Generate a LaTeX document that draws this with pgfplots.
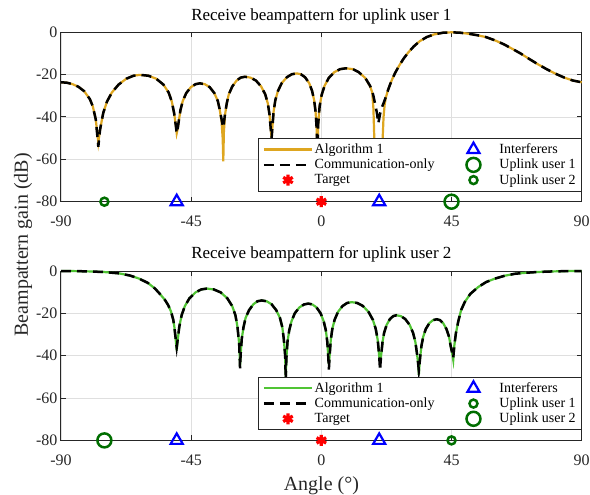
\documentclass[border=0pt]{standalone}
\usepackage{fontspec}
\setmainfont{Liberation Serif}
\usepackage{pgfplots}
\usepackage{pgfplotstable}
\pgfplotsset{compat=1.18}

\definecolor{algorange}{RGB}{222,166,32}
\definecolor{alggreen}{RGB}{80,196,52}
\definecolor{ugreen}{RGB}{0,110,0}
\definecolor{axgray}{RGB}{38,38,38}
\definecolor{gridgray}{RGB}{223,223,223}

% receive beampattern, uplink user 1 (angle, Algorithm 1, communication-only)
\pgfplotstableread{
ang alg com
-90 -23.6 -23.6
-88 -23.8 -23.8
-86 -24.5 -24.5
-84 -25.7 -25.7
-82 -27.8 -27.8
-80 -31.6 -31.6
-79 -35.0 -35.0
-78 -41.0 -41.0
-77.5 -47.0 -48.0
-77.1 -52.0 -54.0
-76.5 -46.0 -46.0
-75.4 -38.1 -38.1
-74.1 -32.7 -32.7
-72.4 -28.4 -28.4
-70.1 -24.7 -24.7
-67.4 -21.9 -21.9
-64.9 -20.5 -20.5
-62.7 -20.1 -20.1
-59.8 -20.5 -20.5
-57.1 -21.9 -21.9
-54.6 -24.7 -24.7
-52.8 -28.4 -28.4
-51.7 -32.7 -32.7
-50.9 -38.1 -38.1
-50.3 -44.1 -44.1
-50.0 -47.7 -47.7
-49.7 -45.9 -45.9
-49.3 -42.1 -42.1
-48.7 -36.7 -36.7
-47.9 -32.4 -32.4
-46.7 -28.7 -28.7
-45.1 -25.9 -25.9
-43.5 -24.5 -24.5
-42.0 -24.1 -24.1
-40.3 -24.5 -24.5
-38.6 -25.9 -25.9
-37.0 -28.7 -28.7
-35.8 -32.4 -32.4
-35.1 -36.7 -36.7
-34.5 -42.1 -41.0
-34.1 -50.2 -44.0
-33.9 -61.0 -45.0
-33.7 -47.3 -43.0
-33.3 -39.0 -38.5
-32.7 -33.6 -33.6
-32.0 -29.3 -29.3
-30.8 -25.6 -25.6
-29.3 -22.8 -22.8
-27.9 -21.4 -21.4
-26.4 -21.0 -21.0
-24.5 -21.4 -21.4
-22.6 -22.8 -22.8
-20.8 -25.6 -25.6
-19.4 -29.3 -29.3
-18.5 -33.6 -33.6
-17.9 -39.0 -39.0
-17.5 -45.6 -45.6
-17.2 -50.0 -50.0
-16.9 -44.5 -44.5
-16.5 -37.4 -37.4
-15.9 -32.0 -32.0
-15.0 -27.7 -27.7
-13.7 -24.0 -24.0
-11.9 -21.2 -21.2
-10.2 -19.8 -19.8
-8.5 -19.4 -19.4
-7.1 -19.8 -19.8
-5.65 -21.2 -21.2
-4.2 -24.0 -24.0
-3.2 -27.7 -27.7
-2.5 -32.0 -32.0
-2.0 -37.4 -37.4
-1.6 -45.7 -45.7
-1.4 -60.0 -58.0
-1.1 -43.5 -43.5
-0.6 -35.0 -35.0
0.1 -29.6 -29.6
1.1 -25.3 -25.3
2.55 -21.6 -21.6
4.5 -18.8 -18.8
6.5 -17.4 -17.4
8.5 -17.0 -17.0
10.9 -17.4 -17.4
12.9 -18.8 -18.8
15.2 -21.6 -21.6
16.85 -25.5 -25.3
17.6 -28.5 -28.0
18.0 -36.0 -30.0
18.3 -50.0 -32.0
18.6 -60.0 -34.0
19.2 -66.0 -38.0
19.7 -70.0 -43.0
20.3 -66.0 -38.5
20.9 -60.0 -35.5
21.2 -50.0 -34.5
21.5 -40.0 -33.5
21.9 -34.0 -32.0
22.3 -30.8 -30.5
23.0 -27.5 -27.5
23.8 -24.5 -24.5
24.6 -21.8 -21.8
25.5 -19.2 -19.2
27.0 -15.5 -15.5
28.5 -12.3 -12.3
30.0 -9.6 -9.6
32.0 -6.6 -6.6
34.0 -4.2 -4.2
36.5 -2.2 -2.2
39.0 -1.0 -1.0
42.0 -0.2 -0.2
45.0 0.0 0.0
48.0 -0.2 -0.2
51.0 -0.7 -0.7
54.0 -1.4 -1.4
57.0 -2.3 -2.3
60.0 -3.8 -3.8
63.0 -5.6 -5.6
66.0 -7.8 -7.8
69.0 -10.1 -10.1
72.0 -12.7 -12.7
75.0 -15.2 -15.2
78.0 -17.5 -17.5
81.0 -19.6 -19.6
84.0 -21.4 -21.4
87.0 -22.8 -22.8
90.0 -23.6 -23.6
}\userone

% receive beampattern, uplink user 2
\pgfplotstableread{
ang alg com
-90 0.0 0.0
-85 -0.05 -0.05
-80 -0.2 -0.2
-75 -0.5 -0.5
-70 -1.1 -1.1
-66 -2.2 -2.2
-63 -3.6 -3.6
-60 -5.6 -5.6
-57.5 -8.3 -8.3
-55.5 -11.3 -11.3
-54.0 -13.8 -13.8
-53.0 -16.0 -16.0
-52.0 -19.0 -19.0
-51.2 -23.0 -23.0
-50.8 -26.5 -26.5
-50.35 -32.5 -32.0
-50.0 -37.5 -36.0
-49.65 -32.7 -32.2
-49.1 -26.3 -26.3
-48.3 -20.9 -20.9
-47.2 -16.6 -16.6
-45.6 -12.9 -12.9
-43.5 -10.1 -10.1
-41.5 -8.7 -8.7
-39.6 -8.3 -8.3
-37.2 -8.7 -8.7
-34.8 -10.1 -10.1
-32.5 -12.9 -12.9
-30.8 -16.6 -16.6
-29.7 -20.9 -20.9
-29.0 -26.3 -26.3
-28.4 -34.5 -34.5
-28.1 -45.0 -46.0
-27.9 -39.3 -39.3
-27.5 -31.9 -31.9
-26.9 -26.5 -26.5
-26.2 -22.2 -22.2
-25.0 -18.5 -18.5
-23.5 -15.7 -15.7
-22.1 -14.3 -14.3
-20.6 -13.9 -13.9
-18.9 -14.3 -14.3
-17.2 -15.7 -15.7
-15.6 -18.5 -18.5
-14.3 -22.2 -22.2
-13.5 -26.5 -26.5
-13.0 -31.9 -31.9
-12.5 -40.0 -40.0
-12.3 -52.0 -52.0
-12.1 -41.5 -41.5
-11.7 -33.4 -33.4
-11.1 -28.0 -28.0
-10.3 -23.7 -23.7
-9.2 -20.0 -20.0
-7.6 -17.2 -17.2
-6.0 -15.8 -15.8
-4.5 -15.4 -15.4
-3.1 -15.8 -15.8
-1.65 -17.2 -17.2
-0.25 -20.0 -20.0
0.8 -23.7 -23.7
1.55 -28.0 -28.0
2.05 -33.4 -33.4
2.4 -40.6 -40.6
2.6 -44.0 -46.5
2.85 -40.2 -40.2
3.25 -32.7 -32.7
3.8 -27.3 -27.3
4.6 -23.0 -23.0
5.75 -19.3 -19.3
7.35 -16.5 -16.5
8.9 -15.1 -15.1
10.5 -14.7 -14.7
12.4 -15.1 -15.1
14.35 -16.5 -16.5
16.3 -19.3 -19.3
17.8 -23.0 -23.0
18.8 -27.3 -27.3
19.5 -32.7 -32.7
20.0 -40.2 -40.2
20.3 -43.0 -47.0
20.45 -42.0 -43.5
20.75 -38.9 -38.9
21.15 -33.5 -33.5
21.7 -29.2 -29.2
22.55 -25.5 -25.5
23.7 -22.7 -22.7
24.85 -21.3 -21.3
26.0 -20.9 -20.9
27.5 -21.3 -21.3
29.0 -22.7 -22.7
30.55 -25.5 -25.5
31.7 -29.2 -29.2
32.5 -33.5 -33.5
33.05 -38.9 -38.9
33.45 -43.5 -43.5
33.7 -49.0 -47.0
33.9 -45.0 -44.5
34.15 -40.8 -40.8
34.6 -35.4 -35.4
35.2 -31.1 -31.1
36.1 -27.4 -27.4
37.35 -24.6 -24.6
38.6 -23.2 -23.2
39.9 -22.8 -22.8
41.0 -23.2 -23.2
42.1 -24.6 -24.6
43.25 -27.4 -27.4
44.15 -31.1 -31.1
44.7 -35.4 -35.4
45.15 -38.3 -38.3
45.6 -42.0 -41.0
45.95 -35.5 -35.5
46.5 -29.5 -29.5
47.3 -24.0 -24.0
48.3 -18.5 -18.5
49.6 -14.6 -14.6
51.5 -10.8 -10.8
54.3 -7.5 -7.5
57.0 -5.2 -5.2
60.0 -3.6 -3.6
63.5 -2.2 -2.2
67.0 -1.3 -1.3
71.0 -0.8 -0.8
75.0 -0.45 -0.45
80.0 -0.2 -0.2
85.0 -0.05 -0.05
90.0 0.0 0.0
}\usertwo

\pgfplotsset{
  bp/.style={
    scale only axis, width=520.7pt, height=169.4pt,
    xmin=-90, xmax=90, ymin=-80, ymax=0,
    xtick={-90,-45,0,45,90}, xticklabels={-90,-45,0,45,90},
    ytick={-80,-60,-40,-20,0}, yticklabels={-80,-60,-40,-20,0},
    grid=major, major grid style={gridgray, line width=0.8pt},
    axis line style={axgray, line width=1pt},
    tick style={axgray, line width=1pt}, tick align=inside, major tick length=5pt,
    tick label style={font=\fontsize{16}{18}\selectfont, text=axgray},
    xticklabel style={yshift=-11pt},
    title style={font=\fontsize{17}{19}\selectfont, text=black, yshift=-1pt},
    clip=false,
    legend columns=3, transpose legend, legend cell align=left,
    legend style={at={(1,0.059)}, anchor=south east, draw=axgray, line width=1pt,
      font=\fontsize{14}{16}\selectfont, inner xsep=4pt, inner ysep=4pt,
      row sep=1pt, nodes={inner xsep=1.5pt, inner ysep=1.5pt},
      /tikz/every even column/.append style={column sep=13pt}},
    legend image code/.code={\path (0pt,0pt) (48pt,0pt);
      \draw[mark repeat=2,mark phase=2,#1]
      plot coordinates {(0pt,0pt) (24pt,0pt) (48pt,0pt)};},
  },
  curve/.style={line width=2.2pt, no marks},
  comm/.style={black, line width=2.5pt, dash pattern=on 10pt off 6pt, no marks},
  tgt/.style={only marks, red, mark=asterisk, mark size=5.5pt, mark options={line width=3.2pt, solid}},
  intf/.style={only marks, blue, mark=triangle, mark size=7pt, mark options={line width=2.2pt, solid}},
  bigu/.style={only marks, ugreen, mark=o, mark size=7pt, mark options={line width=2.5pt, solid}},
  smallu/.style={only marks, ugreen, mark=o, mark size=4pt, mark options={line width=2.5pt, solid}},
}

\begin{document}
\begin{tikzpicture}
\path[use as bounding box] (-61pt,32.3pt) rectangle (529pt,-462.7pt);

\begin{axis}[bp, at={(0pt,0pt)}, anchor=north west,
  title={Receive beampattern for uplink user 1}]
\addplot[curve, algorange] table[x=ang, y=alg] {\userone};
\addlegendentry{Algorithm 1}
\addplot[comm] table[x=ang, y=com] {\userone};
\addlegendentry{Communication-only}
\addplot[tgt] coordinates {(0,-80)};
\addlegendentry{Target}
\addplot[intf] coordinates {(-50,-80) (20,-80)};
\addlegendentry{Interferers}
\addplot[bigu] coordinates {(45,-80)};
\addlegendentry{Uplink user 1}
\addplot[smallu] coordinates {(-75,-80)};
\addlegendentry{Uplink user 2}
\end{axis}

\begin{axis}[bp, at={(0pt,-238.7pt)}, anchor=north west,
  title={Receive beampattern for uplink user 2},
  xlabel={Angle (°)}, xlabel style={font=\fontsize{20}{22}\selectfont, text=axgray, yshift=-4pt}]
\addplot[curve, alggreen] table[x=ang, y=alg] {\usertwo};
\addlegendentry{Algorithm 1}
\addplot[comm] table[x=ang, y=com] {\usertwo};
\addlegendentry{Communication-only}
\addplot[tgt] coordinates {(0,-80)};
\addlegendentry{Target}
\addplot[intf] coordinates {(-50,-80) (20,-80)};
\addlegendentry{Interferers}
\addplot[smallu] coordinates {(45,-80)};
\addlegendentry{Uplink user 1}
\addplot[bigu] coordinates {(-75,-80)};
\addlegendentry{Uplink user 2}
\end{axis}

\node[rotate=90, font=\fontsize{20}{22}\selectfont, text=axgray] at (-38pt,-212.7pt) {Beampattern gain (dB)};
\end{tikzpicture}
\end{document}
